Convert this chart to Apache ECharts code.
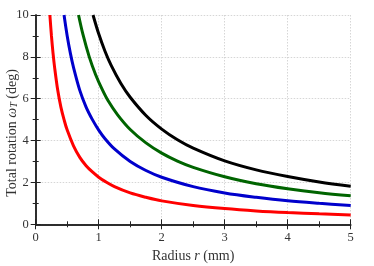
<!DOCTYPE html>
<html><head><meta charset="utf-8">
<script src="https://cdn.jsdelivr.net/npm/echarts@6/dist/echarts.min.js"></script>
<style>html,body{margin:0;padding:0;background:#fff}#c{width:374px;height:266px}</style>
</head><body><div id="c"></div>
<script>
var xTicks = [0, 1, 2, 3, 4, 5];
var yTicks = [0, 2, 4, 6, 8, 10];
var redR = [0.225,0.25,0.275,0.3,0.35,0.4,0.45,0.5,0.6,0.7,0.8,0.9,1,1.1,1.25,1.5,1.75,2,2.5,3,3.5,4,4.5,5];
var redV = [10,9.0,8.18,7.5,6.4,5.6,5.0,4.5,3.75,3.2,2.8,2.5,2.25,2.05,1.8,1.5,1.29,1.12,0.9,0.75,0.64,0.56,0.5,0.45];
var blueR = [0.45,0.5,0.55,0.6,0.7,0.8,0.9,1,1.1,1.25,1.5,1.75,2,2.5,3,3.5,4,4.5,5];
var blueV = [10,9.0,8.18,7.5,6.4,5.6,5.0,4.5,4.09,3.6,3.0,2.57,2.25,1.8,1.5,1.29,1.12,1.0,0.9];
var greenR = [0.68,0.75,0.85,0.95,1.05,1.15,1.3,1.5,1.75,2,2.25,2.5,3,3.5,4,4.5,5];
var greenV = [10,9.07,8.0,7.16,6.48,5.9,5.23,4.53,3.89,3.4,3.02,2.72,2.27,1.94,1.7,1.51,1.36];
var blackR = [0.91,1,1.1,1.2,1.35,1.5,1.75,2,2.25,2.5,3,3.5,4,4.5,5];
var blackV = [10,9.1,8.27,7.58,6.74,6.07,5.2,4.55,4.04,3.64,3.03,2.6,2.28,2.02,1.82];
var xName = ['Radius ', 'r', ' (mm)'];
var yName = ['Total rotation ', 'ω', 'T', ' (deg)'];

function pairs(r, v){ return r.map(function(x,i){ return [x, v[i]]; }); }
var F = 'Liberation Serif';
var NS = 14;
var axisLine = {show:true, lineStyle:{color:'#222', width:1.5}};
var chart = echarts.init(document.getElementById('c'));
function mk(name, r, v, color){
  return {type:'line', name:name, data:pairs(r,v), smooth:0.35, showSymbol:false, clip:true,
    lineStyle:{color:color, width:3}, itemStyle:{color:color}, xAxisIndex:0, yAxisIndex:0};
}
var rich = {
  n:{fontFamily:F, fontSize:NS, fill:'#333', color:'#333'},
  i:{fontFamily:F, fontSize:NS, fontStyle:'italic', fill:'#333', color:'#333'},
  s:{fontFamily:F, fontSize:10, fontStyle:'italic', fill:'#333', color:'#333', padding:[5,0,0,0]}
};
chart.setOption({
  animation:false,
  grid:{left:35.7, right:23.3, top:15, bottom:41.7, containLabel:false, outerBoundsMode:'none'},
  graphic:[{
    type:'text', left:5, top:'middle', x:0, y:0,
    rotation:Math.PI/2, originX:0, originY:0,
    style:{text:'{n|'+yName[0]+'}{i|'+yName[1]+'}{s|'+yName[2]+'}{n|'+yName[3]+'}', rich:rich, fill:'#333'}
  }],
  xAxis:[
    {type:'value', min:0, max:5, interval:1, position:'bottom',
     axisLine:axisLine, axisTick:{show:true, inside:true, length:5, lineStyle:{color:'#222'}},
     minorTick:{show:true, splitNumber:2, length:3, lineStyle:{color:'#222'}},
     axisLabel:{fontFamily:F, fontSize:12.5, color:'#333', margin:7, formatter:function(v){return xTicks.indexOf(v)>=0?String(v):'';}},
     splitLine:{show:true, lineStyle:{color:'#cccccc', type:[1.5,1.5], width:0.8}},
     name:'{n|'+xName[0]+'}{i|'+xName[1]+'}{n|'+xName[2]+'}', nameLocation:'middle', nameGap:23,
     nameTextStyle:{rich:rich}},
    {type:'value', min:0, max:5, interval:1, position:'top',
     axisLine:axisLine, axisTick:{show:true, inside:true, length:5, lineStyle:{color:'#222'}},
     minorTick:{show:true, splitNumber:2, length:3, lineStyle:{color:'#222'}},
     axisLabel:{show:false}, splitLine:{show:false}}
  ],
  yAxis:[
    {type:'value', min:0, max:10, interval:2, position:'left',
     axisLine:axisLine, axisTick:{show:true, inside:true, length:5, lineStyle:{color:'#222'}},
     minorTick:{show:true, splitNumber:2, length:3, lineStyle:{color:'#222'}},
     axisLabel:{fontFamily:F, fontSize:12.5, color:'#333', margin:7, formatter:function(v){return yTicks.indexOf(v)>=0?String(v):'';}},
     splitLine:{show:true, lineStyle:{color:'#cccccc', type:[1.5,1.5], width:0.8}}},
    {type:'value', min:0, max:10, interval:2, position:'right',
     axisLine:axisLine, axisTick:{show:true, inside:true, length:5, lineStyle:{color:'#222'}},
     minorTick:{show:true, splitNumber:2, length:3, lineStyle:{color:'#222'}},
     axisLabel:{show:false}, splitLine:{show:false}}
  ],
  series:[
    mk('red', redR, redV, '#ff0000'),
    mk('blue', blueR, blueV, '#0000cc'),
    mk('green', greenR, greenV, '#006400'),
    mk('black', blackR, blackV, '#000000')
  ]
});
</script></body></html>
